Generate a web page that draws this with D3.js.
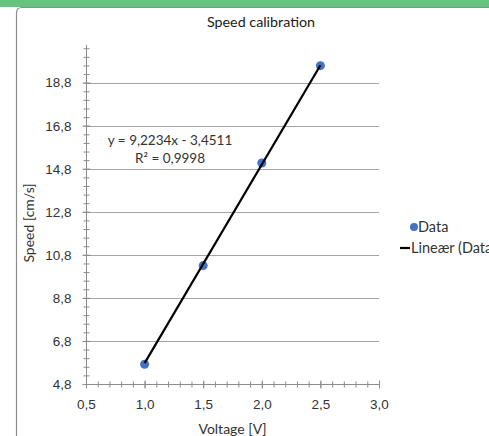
<html>
<head>
  <style>
    body { margin: 0; background: #fff; }
    svg { display: block; font-family: Lato, "Open Sans", sans-serif; }
    .axis path { display: none; }
    .axis line { stroke: #8c8c8c; }
    .axis text { fill: #333; font-size: 13.5px; }
    .grid { stroke: #a6a6a6; stroke-width: 1; }
  </style>
  <script src="https://d3js.org/d3.v7.min.js"></script>
</head>
<body>
<script>
  // data
  var voltage = [1.0, 1.5, 2.0, 2.5];
  var speed = [5.72, 10.30, 15.07, 19.59];
  var xTicks = [0.5, 1.0, 1.5, 2.0, 2.5, 3.0];
  var yTicks = [4.8, 6.8, 8.8, 10.8, 12.8, 14.8, 16.8, 18.8];
  var xMinor = d3.range(0, 26).map(function(i) { return +(0.5 + i * 0.1).toFixed(1); });
  var yMinor = d3.range(0, 40).map(function(i) { return +(4.8 + i * 0.4).toFixed(1); });
  var slope = 9.2234, intercept = -3.4511, r2 = 0.9998;
  var legendNames = ["Data", "Lineær (Data)"];

  var width = 489, height = 436;
  var plot = {left: 86, right: 379, top: 45, bottom: 384};

  var loc = d3.formatLocale({decimal: ",", thousands: ".", grouping: [3], currency: ["", ""]});
  var f1 = loc.format(".1f");

  var x = d3.scaleLinear().domain([0.5, 3.0]).range([plot.left, plot.right]);
  var y = d3.scaleLinear().domain([4.8, 20.55]).range([plot.bottom, plot.top]);

  var svg = d3.select("body").append("svg")
      .attr("width", width)
      .attr("height", height);

  // green strip and chart frame
  svg.append("rect").attr("x", 0).attr("y", 0).attr("width", width).attr("height", 7)
      .attr("fill", "#66c47e");
  svg.append("path")
      .attr("d", "M16.5," + height + " V13 Q16.5,7.5 22,7.5 H" + width)
      .attr("fill", "none").attr("stroke", "#8c8c8c").attr("stroke-width", 1.2);

  // title
  svg.append("text")
      .attr("x", 261).attr("y", 27)
      .attr("text-anchor", "middle")
      .attr("font-size", "14.3px").attr("fill", "#1a1a1a")
      .text("Speed calibration");

  // gridlines
  svg.append("g").selectAll("line")
      .data(yTicks.slice(1))
      .enter().append("line")
      .attr("class", "grid")
      .attr("x1", plot.left).attr("x2", plot.right)
      .attr("y1", function(d) { return Math.round(y(d)) + 0.5; })
      .attr("y2", function(d) { return Math.round(y(d)) + 0.5; });

  // axis lines
  svg.append("line")
      .attr("x1", plot.left + 0.5).attr("x2", plot.left + 0.5)
      .attr("y1", plot.top).attr("y2", plot.bottom)
      .attr("stroke", "#8c8c8c");
  svg.append("line")
      .attr("x1", plot.left).attr("x2", plot.right)
      .attr("y1", plot.bottom + 0.5).attr("y2", plot.bottom + 0.5)
      .attr("stroke", "#8c8c8c");

  // minor ticks (cross)
  svg.append("g").attr("class", "axis")
      .attr("transform", "translate(" + (plot.left + 0.5) + ",0)")
      .call(d3.axisLeft(y).tickValues(yMinor).tickSize(3).tickFormat(""))
      .selectAll(".tick line").attr("x1", 3);
  svg.append("g").attr("class", "axis")
      .attr("transform", "translate(0," + (plot.bottom + 0.5) + ")")
      .call(d3.axisBottom(x).tickValues(xMinor).tickSize(3).tickFormat(""))
      .selectAll(".tick line").attr("y1", -3);

  // major ticks and labels
  svg.append("g").attr("class", "axis")
      .attr("transform", "translate(" + (plot.left + 0.5) + ",0)")
      .call(d3.axisLeft(y).tickValues(yTicks).tickSize(4).tickPadding(11).tickFormat(f1))
      .selectAll(".tick line").attr("x1", 4);
  svg.append("g").attr("class", "axis")
      .attr("transform", "translate(0," + (plot.bottom + 0.5) + ")")
      .call(d3.axisBottom(x).tickValues(xTicks).tickSize(4).tickPadding(11).tickFormat(f1))
      .selectAll(".tick line").attr("y1", -4);

  // axis titles
  svg.append("text")
      .attr("x", (plot.left + plot.right) / 2).attr("y", 434)
      .attr("text-anchor", "middle")
      .attr("font-size", "14px").attr("fill", "#333")
      .text("Voltage [V]");
  svg.append("text")
      .attr("transform", "translate(34,223) rotate(-90)")
      .attr("text-anchor", "middle")
      .attr("font-size", "14px").attr("fill", "#333")
      .text("Speed [cm/s]");

  // points
  var pts = voltage.map(function(v, i) { return {x: v, y: speed[i]}; });
  svg.append("g").selectAll("circle")
      .data(pts)
      .enter().append("circle")
      .attr("cx", function(d) { return x(d.x); })
      .attr("cy", function(d) { return y(d.y); })
      .attr("r", 4.5)
      .attr("fill", "#4472c4");

  // linear trendline
  var xr = d3.extent(voltage);
  var line = d3.line()
      .x(function(d) { return x(d); })
      .y(function(d) { return y(slope * d + intercept); });
  svg.append("path")
      .datum(xr)
      .attr("d", line)
      .attr("fill", "none")
      .attr("stroke", "#000")
      .attr("stroke-width", 2.2);

  // equation label
  var eq = svg.append("text")
      .attr("text-anchor", "middle")
      .attr("font-size", "13.5px").attr("fill", "#333");
  eq.append("tspan").attr("x", 170).attr("y", 145)
      .text("y = " + loc.format(".4f")(slope) + "x - " + loc.format(".4f")(-intercept));
  eq.append("tspan").attr("x", 170).attr("y", 163)
      .text("R² = " + loc.format(".4f")(r2));

  // legend
  var lg = svg.append("g").attr("font-size", "14.5px").attr("fill", "#333");
  lg.append("circle").attr("cx", 414).attr("cy", 227).attr("r", 4).attr("fill", "#4472c4");
  lg.append("text").attr("x", 418).attr("y", 232).text(legendNames[0]);
  lg.append("line").attr("x1", 400).attr("x2", 410).attr("y1", 248).attr("y2", 248)
      .attr("stroke", "#000").attr("stroke-width", 2.2);
  lg.append("text").attr("x", 411).attr("y", 253).text(legendNames[1]);
</script>
</body>
</html>
